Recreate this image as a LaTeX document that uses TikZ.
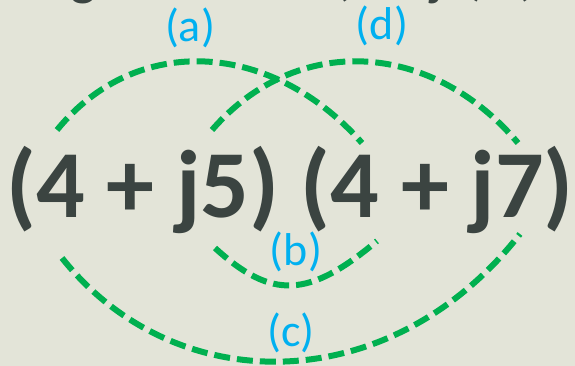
\documentclass[tikz,border=0pt]{standalone}
\usepackage{fontspec}
\setmainfont{Carlito}
\usetikzlibrary{positioning}
\definecolor{bgpaper}{HTML}{E3E4D8}
\definecolor{termgray}{HTML}{3B4441}
\definecolor{foilgreen}{HTML}{00B050}
\definecolor{labelcyan}{HTML}{00B0F0}

\begin{document}
\begin{tikzpicture}[x=1pt,y=-1pt,
  pairarc/.style={foilgreen,line width=6pt,dash pattern=on 16pt off 7pt},
  arclabel/.style={labelcyan,inner sep=0pt,font=\fontsize{46}{46}\selectfont},
  topline/.style={termgray,inner sep=0pt,anchor=base west,font=\fontsize{55}{55}\selectfont}]
  \fill[bgpaper](0,0)rectangle(575,366);
  \clip(0,0)rectangle(575,366);
  % line above, cut off by the frame
  \node[topline] (prevg) at (70,-5){g};
  \node[topline] (prevterm) at (333,-5){(4 + j5)};
  \node[topline] (prevparen) at (513,-5){(};
  % the product
  \node[termgray,inner sep=0pt,anchor=base,font=\fontsize{96}{96}\selectfont\bfseries] (product) at (290,217){(4 + j5) (4 + j7)};
  \coordinate (firstL) at (57,130); \coordinate (firstR) at (362,143);
  \coordinate (lastL) at (212,130); \coordinate (lastR) at (518,143);
  \coordinate (innerL) at (215,248); \coordinate (innerR) at (377,241);
  \coordinate (outerL) at (62,258); \coordinate (outerR) at (520,234);
  \draw[pairarc](firstL) .. controls (136,33) and (271,40) .. (firstR);
  \draw[pairarc](lastL) .. controls (296,33) and (431,40) .. (lastR);
  \draw[pairarc](innerL) .. controls (272,300) and (309,298) .. (innerR);
  \draw[pairarc](outerL) .. controls (175,400) and (390,400) .. (outerR);
  \node[arclabel] (la) at (190,28){(a)};
  \node[arclabel] (ld) at (382,26){(d)};
  \node[arclabel] (lb) at (296,252){(b)};
  \node[arclabel] (lc) at (291,333){(c)};
\end{tikzpicture}
\end{document}
